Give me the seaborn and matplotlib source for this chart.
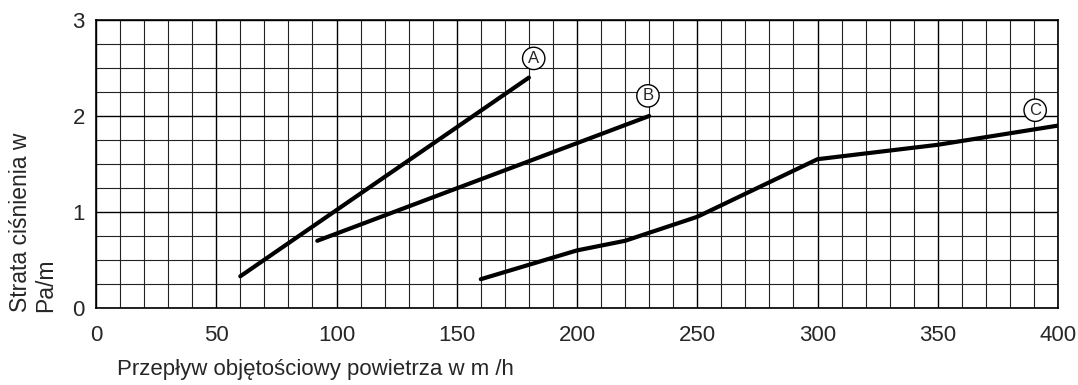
import numpy as np
import pandas as pd
import matplotlib
matplotlib.use("Agg")
import matplotlib.pyplot as plt
import seaborn as sns
from matplotlib.ticker import MultipleLocator

# curve data
a_x = [60, 180]
a_y = [0.33, 2.40]
b_x = [92, 230]
b_y = [0.70, 2.00]
c_x = [160, 200, 220, 250, 300, 350, 400]
c_y = [0.30, 0.60, 0.70, 0.95, 1.55, 1.70, 1.90]

# circled labels
label_names = ["A", "B", "C"]
label_x = [182, 229.5, 390.5]
label_y = [2.60, 2.21, 2.06]

x_ticks = [0, 50, 100, 150, 200, 250, 300, 350, 400]
y_ticks = [0, 1, 2, 3]

df = pd.concat([
    pd.DataFrame({"x": a_x, "y": a_y, "curve": "A"}),
    pd.DataFrame({"x": b_x, "y": b_y, "curve": "B"}),
    pd.DataFrame({"x": c_x, "y": c_y, "curve": "C"}),
])

sns.set_style("white")
plt.rcParams["font.family"] = ["Liberation Sans", "DejaVu Sans"]

fig = plt.figure(figsize=(10.78, 3.85), dpi=100)
ax = fig.add_axes([96 / 1078, 1 - 308 / 385, 962 / 1078, 288 / 385])

sns.lineplot(data=df, x="x", y="y", hue="curve", units="curve", estimator=None,
             palette=["black"] * 3, linewidth=3, legend=False, sort=False, ax=ax,
             zorder=3)

ax.set_xlim(0, 400)
ax.set_ylim(0, 3)
ax.set_xticks(x_ticks)
ax.set_yticks(y_ticks)
ax.xaxis.set_minor_locator(MultipleLocator(10))
ax.yaxis.set_minor_locator(MultipleLocator(0.25))
ax.grid(which="major", color="black", linewidth=1.0)
ax.grid(which="minor", color="#222222", linewidth=0.8)
ax.set_axisbelow(True)
ax.tick_params(which="both", length=0, labelsize=16)
ax.tick_params(axis="x", pad=12)
ax.tick_params(axis="y", pad=8)
for s in ax.spines.values():
    s.set_color("black")
    s.set_linewidth(1.2)

for name, lx, ly in zip(label_names, label_x, label_y):
    ax.text(lx, ly, name, ha="center", va="center", fontsize=12, zorder=5,
            bbox=dict(boxstyle="circle,pad=0.22", fc="white", ec="black", lw=1))

ax.set_xlabel("")
ax.set_ylabel("")
fig.text(117 / 1078, 1 - 370 / 385, "Przepływ objętościowy powietrza w m /h",
         ha="left", va="center", fontsize=16)
fig.text(33 / 1078, 1 - 312 / 385, "Strata ciśnienia w\nPa/m", ha="center",
         va="bottom", rotation=90, fontsize=16.5, linespacing=1.1, multialignment="left")

fig.savefig("out.png", dpi=100)
